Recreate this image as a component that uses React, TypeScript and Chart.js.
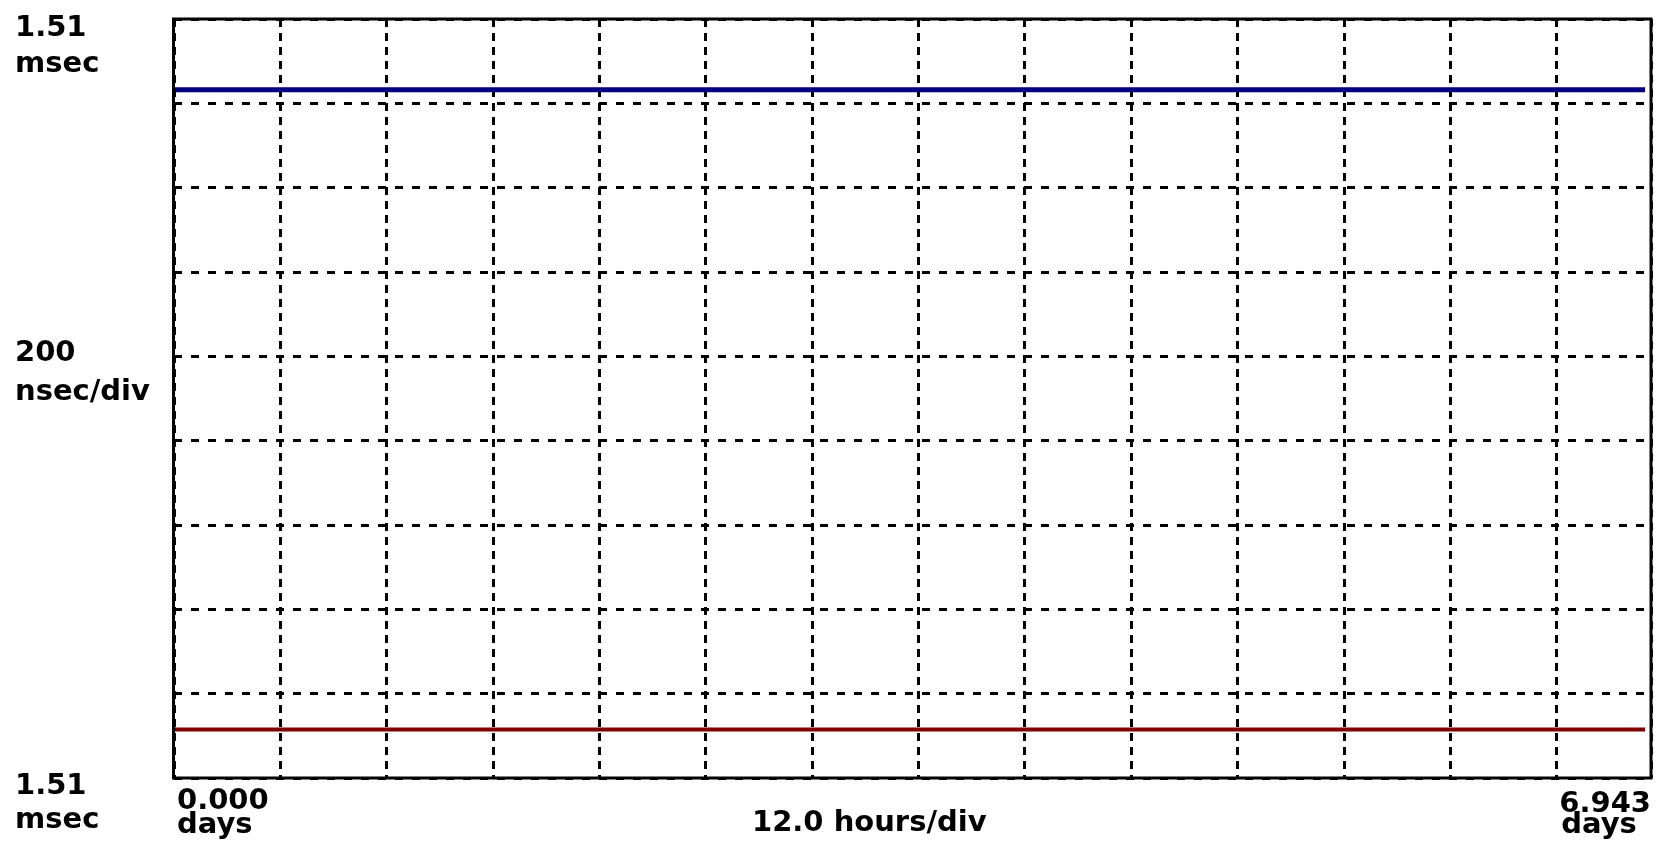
import React, { useEffect, useRef } from "react";
import { Chart, registerables } from "chart.js";

Chart.register(...registerables);

// ---- data ----
const timeDays = [0, 1, 2, 3, 4, 5, 6, 6.915];
const upperSeries = [1632, 1632, 1632, 1632, 1632, 1632, 1632, 1632]; // nsec above bottom of screen
const lowerSeries = [115, 115, 115, 115, 115, 115, 115, 115];
const xMin = 0;
const xMax = 6.943; // days
const xStep = 0.5; // 12 hours/div
const yMin = 0;
const yMax = 1800; // nsec (9 div)
const yStep = 200; // 200 nsec/div

const topLabel = ["1.51", "msec"];
const midLabel = ["200", "nsec/div"];
const bottomLabel = ["1.51", "msec"];
const xStartLabel = ["0.000", "days"];
const xEndLabel = ["6.943", "days"];
const xDivLabel = "12.0 hours/div";

const FONT = "bold 29px 'DejaVu Sans'";

const framePlugin = {
  id: "scopeFrame",
  afterDraw(chart: any) {
    const { ctx, chartArea } = chart;
    const { left, top, right, bottom } = chartArea;
    ctx.save();
    ctx.strokeStyle = "#000";
    ctx.lineWidth = 3;
    ctx.setLineDash([]);
    ctx.strokeRect(left - 0.5, top, right - left + 0.5, bottom - top);

    ctx.fillStyle = "#000";
    ctx.font = FONT;
    ctx.textBaseline = "alphabetic";
    ctx.textAlign = "left";
    // y-axis labels
    ctx.fillText(topLabel[0], 15, 36);
    ctx.fillText(topLabel[1], 15, 72);
    ctx.fillText(midLabel[0], 15, 361);
    ctx.fillText(midLabel[1], 15, 400);
    ctx.fillText(bottomLabel[0], 15, 794);
    ctx.fillText(bottomLabel[1], 15, 828);
    // x-axis labels
    ctx.fillText(xStartLabel[0], left + 3, 809);
    ctx.fillText(xStartLabel[1], left + 3, 833);
    ctx.textAlign = "right";
    ctx.fillText(xEndLabel[0], right, 812);
    ctx.textAlign = "left";
    const w = ctx.measureText(xEndLabel[0]).width;
    ctx.fillText(xEndLabel[1], right - w + 2, 833);
    ctx.fillText(xDivLabel, 752, 831);
    ctx.restore();
  },
};

export default function App() {
  const ref = useRef<HTMLCanvasElement | null>(null);

  useEffect(() => {
    document.body.style.margin = "0";
    if (!ref.current) return;
    const chart = new Chart(ref.current, {
      type: "line",
      data: {
        datasets: [
          {
            data: timeDays.map((t, i) => ({ x: t, y: upperSeries[i] })),
            borderColor: "#000080",
            borderWidth: 5,
            pointRadius: 0,
            borderCapStyle: "butt",
            tension: 0,
          },
          {
            data: timeDays.map((t, i) => ({ x: t, y: lowerSeries[i] })),
            borderColor: "#800000",
            borderWidth: 4,
            pointRadius: 0,
            borderCapStyle: "butt",
            tension: 0,
          },
        ],
      },
      options: {
        animation: false,
        responsive: false,
        maintainAspectRatio: false,
        devicePixelRatio: 1,
        layout: { padding: { left: 174, top: 19, right: 9, bottom: 67 } },
        plugins: { legend: { display: false }, tooltip: { enabled: false }, title: { display: false } },
        scales: {
          x: {
            type: "linear",
            min: xMin,
            max: xMax,
            ticks: { display: false, stepSize: xStep },
            grid: { color: "#000", lineWidth: 3, drawTicks: false },
            border: { display: false, dash: [8, 6] },
          },
          y: {
            type: "linear",
            min: yMin,
            max: yMax,
            ticks: { display: false, stepSize: yStep },
            grid: { color: "#000", lineWidth: 3, drawTicks: false },
            border: { display: false, dash: [8, 9] },
          },
        },
      },
      plugins: [framePlugin],
    } as any);
    return () => chart.destroy();
  }, []);

  return (
    <div style={{ width: 1660, height: 845, overflow: "hidden", background: "#fff" }}>
      <canvas ref={ref} width={1660} height={845} style={{ display: "block" }} />
    </div>
  );
}
